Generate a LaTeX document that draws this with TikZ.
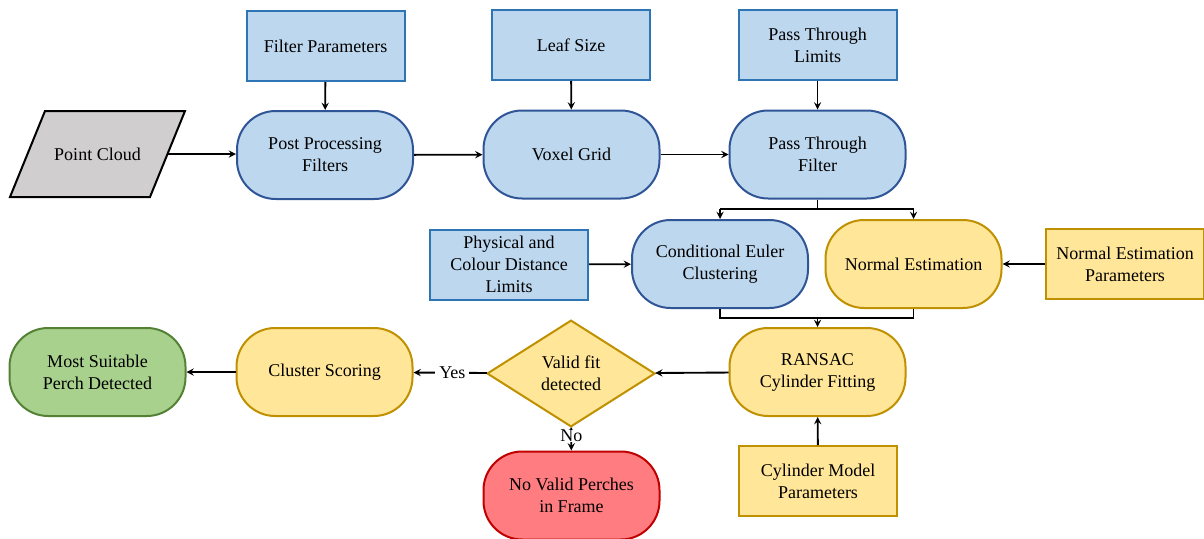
\documentclass[tikz,border=0pt]{standalone}
\usepackage{fontspec}
\setmainfont{Liberation Serif}
\usetikzlibrary{shapes.geometric}
\definecolor{bluefill}{HTML}{BDD7EE}
\definecolor{blueline}{HTML}{2E75B6}
\definecolor{bluedark}{HTML}{2F5597}
\definecolor{yelfill}{HTML}{FFE699}
\definecolor{yelline}{HTML}{BF9000}
\definecolor{grnfill}{HTML}{A9D18E}
\definecolor{grnline}{HTML}{548235}
\definecolor{redfill}{HTML}{FF7C80}
\definecolor{redline}{HTML}{C00000}
\definecolor{greyfill}{HTML}{D0CECE}
\begin{document}
\begin{tikzpicture}[x=0.75pt, y=-0.75pt, >=stealth, line width=1.4pt,
  font=\fontsize{13.5}{16.5}\selectfont,
  inbox/.style={draw=blueline, fill=bluefill, line width=1.5pt, align=center,
    minimum width=118.5pt, minimum height=52.5pt, inner sep=2pt},
  inboxy/.style={inbox, draw=yelline, fill=yelfill},
  proc/.style={draw=bluedark, fill=bluefill, line width=1.5pt, align=center,
    rounded corners=29pt, minimum width=132pt, minimum height=66pt, inner sep=2pt},
  procy/.style={proc, draw=yelline, fill=yelfill},
  procg/.style={proc, draw=grnline, fill=grnfill},
  procr/.style={proc, draw=redline, fill=redfill},
  check/.style={diamond, draw=yelline, fill=yelfill, line width=1.5pt, align=center,
    minimum width=126pt, minimum height=80pt, inner sep=0pt}]
  \useasboundingbox (0,0) rectangle (1204,539);
  % point cloud input
  \filldraw[fill=greyfill, draw=black, line width=1.5pt]
    (10,197) -- (45,111) -- (185,111) -- (150,197) -- cycle;
  \node (cloud) at (97.5,154) {Point Cloud};
  \coordinate (cloudout) at (167,154);
  % parameter boxes
  \node[inbox] (filtpar) at (325.5,46) {Filter Parameters};
  \node[inbox] (leaf) at (571,45) {Leaf Size};
  \node[inbox] (ptlim) at (817.5,45) {Pass Through\\Limits};
  \node[inbox] (dist) at (509,264.5) {Physical and\\Colour Distance\\Limits};
  \node[inboxy] (normpar) at (1125,264) {Normal Estimation\\Parameters};
  \node[inboxy] (cylpar) at (818,481) {Cylinder Model\\Parameters};
  % processing
  \node[proc] (post) at (325,155) {Post Processing\\Filters};
  \node[proc] (voxel) at (571.5,154.5) {Voxel Grid};
  \node[proc] (ptf) at (817.5,154.5) {Pass Through\\Filter};
  \node[proc] (euler) at (720,264) {Conditional Euler\\Clustering};
  \node[procy] (normal) at (913.5,264) {Normal Estimation};
  \node[procy] (ransac) at (817.5,372) {RANSAC\\Cylinder Fitting};
  \node[check] (valid) at (571,373.5) {Valid fit\\detected};
  \node[procy] (score) at (324.5,372) {Cluster Scoring};
  \node[procg] (best) at (97.5,372) {Most Suitable\\Perch Detected};
  \node[procr] (none) at (571.5,495.5) {No Valid Perches\\in Frame};
  % connectors
  \draw[->] (cloudout) -- (cloudout -| post.west);
  \draw[->] (filtpar) -- (post);
  \draw[->] (post) -- (voxel);
  \draw[->] (leaf) -- (voxel);
  \draw[->] (voxel) -- (ptf);
  \draw[->] (ptlim) -- (ptf);
  \coordinate (split) at (817.5,209);
  \coordinate (merge) at (817.5,318);
  \draw (ptf.south) -- (split) (euler.north |- split) -- (normal.north |- split);
  \draw[->] (euler.north |- split) -- (euler.north);
  \draw[->] (normal.north |- split) -- (normal.north);
  \draw (euler.south) -- (euler.south |- merge) -- (normal.south |- merge) -- (normal.south);
  \draw[->] (merge) -- (ransac.north);
  \draw[->] (dist) -- (euler);
  \draw[->] (normpar) -- (normal);
  \draw[->] (cylpar) -- (ransac);
  \draw[->] (ransac) -- (valid);
  \draw[->] (valid) -- node[fill=white, inner sep=3pt, pos=0.47] {Yes} (score);
  \draw[->] (valid) -- node[fill=white, inner sep=0pt, pos=0.35] {No} (none);
  \draw[->] (score) -- (best);
\end{tikzpicture}
\end{document}
